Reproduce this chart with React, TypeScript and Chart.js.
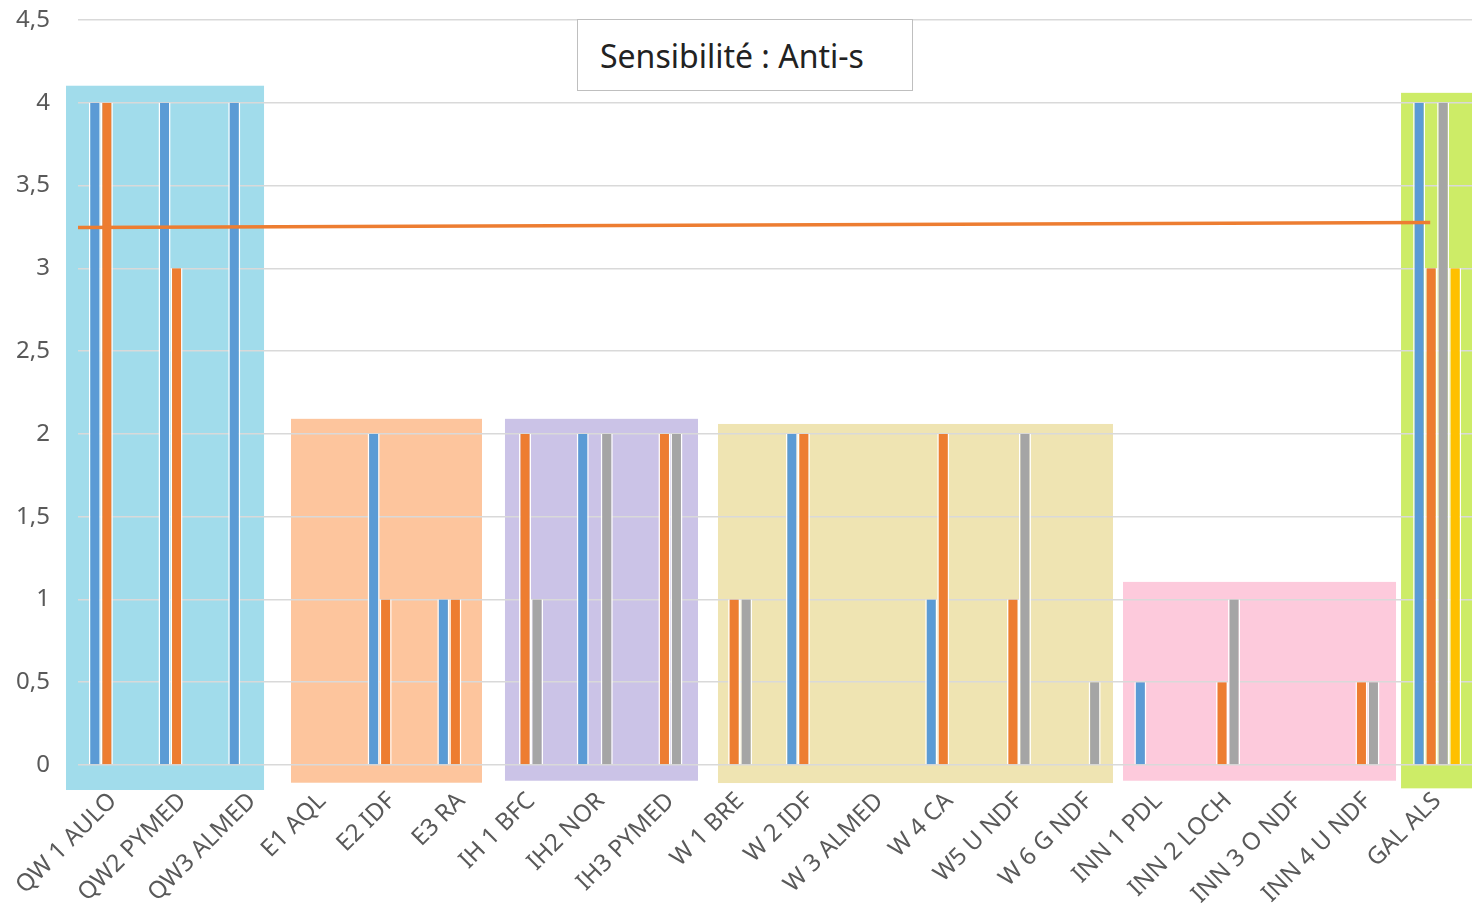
import React, { useEffect, useRef } from "react";
import { Chart, registerables } from "chart.js";

Chart.register(...registerables);

const categories = [
  "QW 1 AULO", "QW2 PYMED", "QW3 ALMED", "E1 AQL", "E2 IDF", "E3 RA",
  "IH 1 BFC", "IH2 NOR", "IH3 PYMED", "W 1 BRE", "W 2 IDF", "W 3 ALMED",
  "W 4 CA", "W5 U NDF", "W 6 G NDF", "INN 1 PDL", "INN 2 LOCH", "INN 3 O NDF",
  "INN 4 U NDF", "GAL ALS",
];
const seriesBlue = [4, 4, 4, 0, 2, 1, 0, 2, 0, 0, 2, 0, 1, 0, 0, 0.5, 0, 0, 0, 4];
const seriesOrange = [4, 3, 0, 0, 1, 1, 2, 0, 2, 1, 2, 0, 2, 1, 0, 0, 0.5, 0, 0.5, 3];
const seriesGray = [0, 0, 0, 0, 0, 0, 1, 2, 2, 1, 0, 0, 0, 2, 0.5, 0, 1, 0, 0.5, 4];
const seriesYellow = [0, 0, 0, 0, 0, 0, 0, 0, 0, 0, 0, 0, 0, 0, 0, 0, 0, 0, 0, 3];
const trendX = [-0.58, 18.9];
const trendY = [3.247, 3.277];
const yMin = 0;
const yMax = 4.5;
const yStep = 0.5;
const titleText = "Sensibilité : Anti-s";

// highlighted group rectangles (category-index units / value units)
const groupBoxes = [
  { from: -0.672, to: 2.169, top: 4.103, bottom: -0.151, color: "#A1DCEB" },
  { from: 2.556, to: 5.296, top: 2.091, bottom: -0.107, color: "#FDC59D" },
  { from: 5.626, to: 8.395, top: 2.091, bottom: -0.095, color: "#CBC3E7" },
  { from: 8.682, to: 14.349, top: 2.060, bottom: -0.109, color: "#EFE4B2" },
  { from: 14.493, to: 18.41, top: 1.106, bottom: -0.095, color: "#FDCADC" },
  { from: 18.482, to: 19.6, top: 4.06, bottom: -0.141, color: "#CDEC67" },
];

const FONT = "'Noto Sans', 'DejaVu Sans', sans-serif";

const boxPlugin = {
  id: "groupBoxes",
  beforeDraw(chart: any) {
    const ctx = chart.ctx;
    const xs = chart.scales.x;
    const ys = chart.scales.y;
    ctx.save();
    for (const b of groupBoxes) {
      const x1 = xs.getPixelForValue(b.from);
      const x2 = xs.getPixelForValue(b.to);
      const y1 = ys.getPixelForValue(b.top);
      const y2 = ys.getPixelForValue(b.bottom);
      ctx.fillStyle = b.color;
      ctx.fillRect(x1, y1, x2 - x1, y2 - y1);
    }
    ctx.restore();
  },
};

const toPoints = (arr: number[]) => arr.map((y, i) => ({ x: i, y }));

export default function App() {
  const ref = useRef<HTMLCanvasElement | null>(null);

  useEffect(() => {
    if (!ref.current) return;
    const barCommon = {
      type: "bar" as const,
      categoryPercentage: 0.689,
      barPercentage: 1,
      borderColor: "#FFFFFF",
      borderWidth: { left: 1.5, right: 1.5, top: 0, bottom: 0 },
      borderSkipped: false,
      order: 1,
    };
    const chart = new Chart(ref.current, {
      type: "bar",
      data: {
        datasets: [
          { ...barCommon, label: "S1", data: toPoints(seriesBlue), backgroundColor: "#5B9BD5" },
          { ...barCommon, label: "S2", data: toPoints(seriesOrange), backgroundColor: "#ED7D31" },
          { ...barCommon, label: "S3", data: toPoints(seriesGray), backgroundColor: "#A5A5A5" },
          { ...barCommon, label: "S4", data: toPoints(seriesYellow), backgroundColor: "#FFC000" },
          {
            type: "line",
            label: "Moyenne",
            data: trendX.map((x, i) => ({ x, y: trendY[i] })),
            borderColor: "#ED7D31",
            borderWidth: 3.5,
            pointRadius: 0,
            fill: false,
            order: 0,
          } as any,
        ],
      },
      options: {
        responsive: false,
        animation: false,
        devicePixelRatio: 1,
        layout: { padding: { top: 20, right: 0, left: 0, bottom: 0 } },
        plugins: {
          legend: { display: false },
          tooltip: { enabled: false },
          title: { display: false },
        },
        scales: {
          x: {
            type: "linear",
            offset: false,
            min: -0.5,
            max: categories.length - 0.5,
            grid: { display: false, drawTicks: false },
            border: { display: false },
            afterBuildTicks(scale: any) {
              scale.ticks = categories.map((_, i) => ({ value: i }));
            },
            ticks: {
              autoSkip: false,
              maxTicksLimit: 100,
              minRotation: 45,
              maxRotation: 45,
              padding: 22,
              color: "#595959",
              font: { family: FONT, size: 24 },
              callback: (v: any) => categories[Math.round(v)] ?? "",
            },
            afterFit(scale: any) {
              scale.height = 144;
              scale.paddingRight = 0;
              scale.paddingLeft = 0;
            },
          },
          y: {
            min: yMin,
            max: yMax,
            border: { display: false },
            grid: { color: "#D9D9D9", lineWidth: 1.5, drawTicks: false },
            ticks: {
              stepSize: yStep,
              padding: 28,
              color: "#595959",
              font: { family: FONT, size: 24 },
              callback: (v: any) => String(v).replace(".", ","),
            },
            afterFit(scale: any) {
              scale.width = 78;
              scale.paddingTop = 0;
              scale.paddingBottom = 0;
            },
          },
        },
      } as any,
      plugins: [boxPlugin],
    });
    return () => chart.destroy();
  }, []);

  return (
    <div style={{ position: "fixed", left: 0, top: 0, width: 1472, height: 909, background: "#fff" }}>
      <canvas ref={ref} width={1472} height={909} style={{ display: "block" }} />
      <div
        style={{
          position: "absolute",
          left: 577,
          top: 19,
          width: 336,
          height: 72,
          boxSizing: "border-box",
          border: "1.5px solid #BFBFBF",
          background: "#FFFFFF",
          display: "flex",
          alignItems: "center",
          paddingLeft: 22,
          fontFamily: FONT,
          fontSize: 32,
          color: "#222222",
          whiteSpace: "nowrap",
        }}
      >
        {titleText}
      </div>
    </div>
  );
}
